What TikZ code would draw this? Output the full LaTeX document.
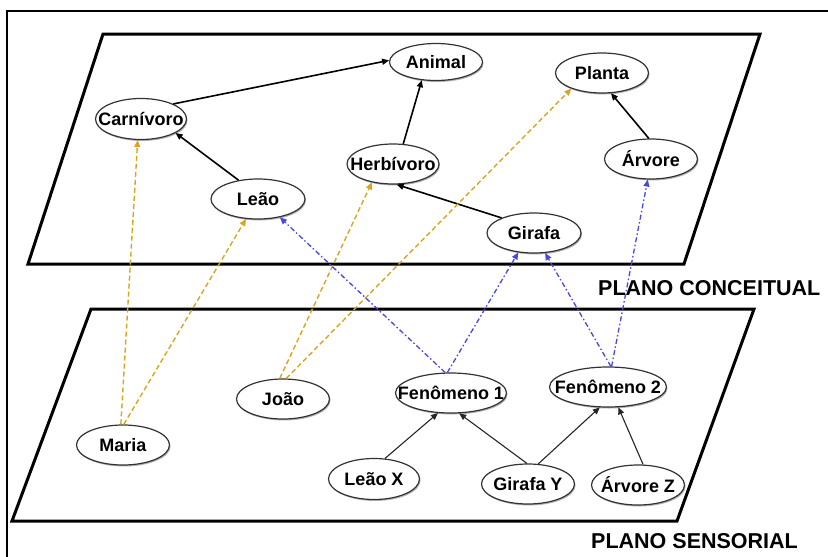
\documentclass[tikz,border=0pt]{standalone}
\usepackage{fontspec}
\setmainfont{Liberation Sans}
\usetikzlibrary{shapes.geometric,arrows.meta,shadows}
\definecolor{mapcolor}{HTML}{D9A521}
\definecolor{phencolor}{HTML}{4848DD}
\newcommand\nodetext[1]{\makebox[0pt]{#1}}

\begin{document}
\begin{tikzpicture}[x=1pt,y=-1pt,
  concept/.style={ellipse, draw=black!80, line width=1.2pt, fill=white,
    minimum width=93pt, minimum height=40pt, inner sep=0pt,
    font=\fontsize{18}{20}\selectfont\bfseries,
    drop shadow={shadow xshift=1pt,shadow yshift=-1.5pt,fill=black!50,opacity=0.6}},
  plane/.style={line width=3pt, line join=miter},
  planelabel/.style={inner sep=0pt, font=\fontsize{21.5}{24}\selectfont\bfseries},
  tip/.style={-{Triangle[length=7pt,width=6pt]}},
  isa/.style={tip, line width=1.6pt, black},
  sensed/.style={tip, line width=1.1pt, black!85},
  mapsto/.style={tip, line width=1.4pt, mapcolor, dash pattern=on 5pt off 3pt},
  phen/.style={tip, line width=1.3pt, phencolor, dash pattern=on 5pt off 2.5pt on 1.5pt off 2.5pt}
]
\useasboundingbox (0,0) rectangle (828,557);

% outer frame
\draw[line width=1.5pt] (7,557) -- (7,11) -- (828,11);

% the two planes
\draw[plane] (103,34) -- (760,34) -- (684,264) -- (28,264) -- cycle;
\draw[plane] (91,309) -- (754,309) -- (677,521) -- (12,521) -- cycle;

\node[planelabel, anchor=base west] (lblc) at (598,295) {PLANO CONCEITUAL};
\node[planelabel, anchor=base west] (lbls) at (591,548) {PLANO SENSORIAL};

% conceptual plane
\node[concept, minimum height=37pt] (ani) at (436,62) {\nodetext{Animal}};
\node[concept] (pla) at (602,73) {\nodetext{Planta}};
\node[concept, minimum width=91pt, minimum height=41pt] (car) at (141,119) {\nodetext{Carnívoro}};
\node[concept, minimum width=92pt] (herb) at (393,164) {\nodetext{Herbívoro}};
\node[concept, minimum width=94pt] (leao) at (258,199) {\nodetext{Leão}};
\node[concept] (arv) at (651,159) {\nodetext{Árvore}};
\node[concept, minimum width=94pt] (gir) at (534,233) {\nodetext{Girafa}};

% sensory plane
\node[concept] (maria) at (123,445) {\nodetext{Maria}};
\node[concept] (joao) at (283,399) {\nodetext{João}};
\node[concept, minimum width=111pt] (f1) at (451,393) {\nodetext{Fenômeno 1}};
\node[concept, minimum width=117pt] (f2) at (608,387) {\nodetext{Fenômeno 2}};
\node[concept, minimum width=91pt, minimum height=41pt] (lx) at (374,479) {\nodetext{Leão X}};
\node[concept] (gy) at (528,484) {\nodetext{Girafa Y}};
\node[concept] (az) at (638,485) {\nodetext{Árvore Z}};

% is-a links between concepts
\draw[isa] (car.25) -- (ani.178);
\draw[isa] (herb.63) -- (ani.232);
\draw[isa] (leao.136) -- (car.338);
\draw[isa] (gir.155) -- (herb.280);
\draw[isa] (arv.96) -- (pla.294);

% objects grouped into phenomena
\draw[sensed] (lx.62) -- (f1.237);
\draw[sensed] (gy.93) -- (f1.292);
\draw[sensed] (gy.63) -- (f2.248);
\draw[sensed] (az.76) -- (f2.297);

% people mapped onto concepts
\draw[mapsto] (maria.96) -- (car.261);
\draw[mapsto] (maria.88) -- (leao.239);
\draw[mapsto] (joao.99) -- (herb.221);
\draw[mapsto] (joao.81) -- (pla.207);

% phenomena mapped onto concepts
\draw[phen] (f1.106) -- (leao.320);
\draw[phen] (f1.100) -- (gir.231);
\draw[phen] (f2.82) -- (gir.299);
\draw[phen] (f2.80) -- (arv.261);
\end{tikzpicture}
\end{document}
